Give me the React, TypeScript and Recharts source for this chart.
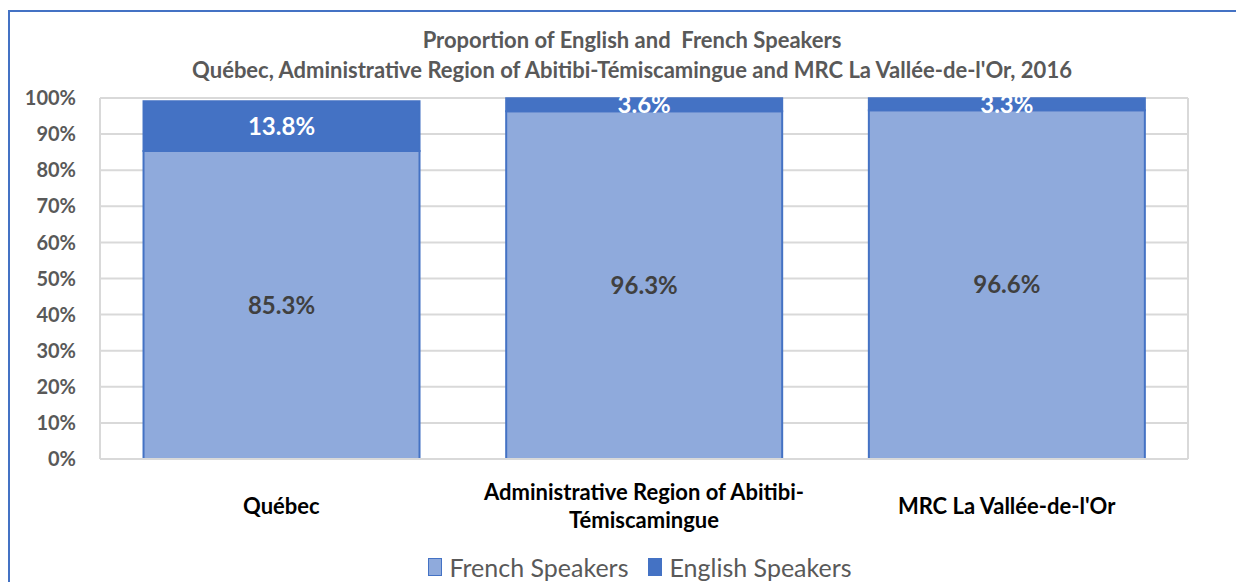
import { BarChart, Bar, XAxis, YAxis, CartesianGrid, Legend, LabelList } from 'recharts';

const CATEGORIES = ['Québec', 'Administrative Region of Abitibi-Témiscamingue', "MRC La Vallée-de-l'Or"];
const TICK_LINES = [['Québec'], ['Administrative Region of Abitibi-', 'Témiscamingue'], ["MRC La Vallée-de-l'Or"]];
const FRENCH = [85.3, 96.3, 96.6];
const ENGLISH = [13.8, 3.6, 3.3];
const Y_TICKS = [0, 10, 20, 30, 40, 50, 60, 70, 80, 90, 100];
const TITLE = ['Proportion of English and  French Speakers', "Québec, Administrative Region of Abitibi-Témiscamingue and MRC La Vallée-de-l'Or, 2016"];

const FONT = 'Lato, "Open Sans", sans-serif';
const LIGHT = '#8faadc';
const DARK = '#4472c4';
const GRID = '#d9d9d9';

const data = CATEGORIES.map((name, i) => ({ name, french: FRENCH[i], english: ENGLISH[i] }));

function XTick({ x, y, index }: { x?: number; y?: number; index?: number }) {
  const lines = TICK_LINES[index ?? 0] || [];
  const lh = 28;
  const start = (y ?? 0) + 38 - ((lines.length - 1) * lh) / 2;
  return (
    <g>
      {lines.map((l, i) => (
        <text key={i} x={x} y={start + i * lh} textAnchor="middle" dominantBaseline="central"
              fontFamily={FONT} fontWeight={700} fontSize={22} fill="#000">
          {l}
        </text>
      ))}
    </g>
  );
}

function LegendBox() {
  const items = [
    { label: 'French Speakers', fill: LIGHT },
    { label: 'English Speakers', fill: DARK },
  ];
  return (
    <div style={{ width: 1236, height: 30, display: 'flex', justifyContent: 'center', alignItems: 'center', paddingLeft: 28, boxSizing: 'border-box', gap: 20 }}>
      {items.map((it) => (
        <div key={it.label} style={{ display: 'flex', alignItems: 'center', gap: 7 }}>
          <span style={{ width: 14, height: 18, background: it.fill, border: `1.5px solid ${DARK}`, boxSizing: 'border-box', display: 'inline-block' }} />
          <span style={{ fontFamily: FONT, fontSize: 25, color: '#595959' }}>{it.label}</span>
        </div>
      ))}
    </div>
  );
}

export default function App() {
  return (
    <div style={{ position: 'relative', width: 1236, height: 574, overflow: 'hidden' }}>
      <div style={{ position: 'absolute', left: 0, top: 2, width: 1270, height: 620, border: `2px solid ${DARK}`, boxSizing: 'border-box' }} />
      <div style={{ position: 'absolute', left: 0, top: 0 }}>
        <BarChart width={1236} height={574} data={data} margin={{ top: 90, right: 56, left: 0, bottom: 0 }} barCategoryGap="12%">
          <CartesianGrid stroke={GRID} strokeWidth={2}
            verticalCoordinatesGenerator={({ offset }: any) => [offset.left, offset.left + offset.width]} />
          <XAxis dataKey="name" axisLine={{ stroke: GRID, strokeWidth: 2 }} tickLine={false} height={93} tick={<XTick />} interval={0} />
          <YAxis domain={[0, 100]} ticks={Y_TICKS} width={92} axisLine={false} tickLine={false} tickSize={0} tickMargin={24}
            tickFormatter={(v: number) => `${v}%`}
            tick={{ fontFamily: FONT, fontWeight: 700, fontSize: 20, fill: '#595959' }} />
          <Legend verticalAlign="bottom" height={30} content={<LegendBox />} />
          <Bar dataKey="french" name="French Speakers" stackId="a" fill={LIGHT} stroke={DARK} strokeWidth={2} isAnimationActive={false}>
            <LabelList dataKey="french" position="center" formatter={(v: any) => `${Number(v).toFixed(1)}%`}
              style={{ fontFamily: FONT, fontWeight: 700, fontSize: 24, fill: '#404040' }} />
          </Bar>
          <Bar dataKey="english" name="English Speakers" stackId="a" fill={DARK} stroke={DARK} strokeWidth={2} isAnimationActive={false}>
            <LabelList dataKey="english" position="center" formatter={(v: any) => `${Number(v).toFixed(1)}%`}
              style={{ fontFamily: FONT, fontWeight: 700, fontSize: 24, fill: '#ffffff' }} />
          </Bar>
        </BarChart>
      </div>
      <div style={{ position: 'absolute', left: 0, top: 17, width: 1248, textAlign: 'center', fontFamily: FONT, fontWeight: 700, fontSize: 22, color: '#595959', lineHeight: '30px', whiteSpace: 'pre' }}>
        {TITLE[0]}
        <br />
        {TITLE[1]}
      </div>
    </div>
  );
}
